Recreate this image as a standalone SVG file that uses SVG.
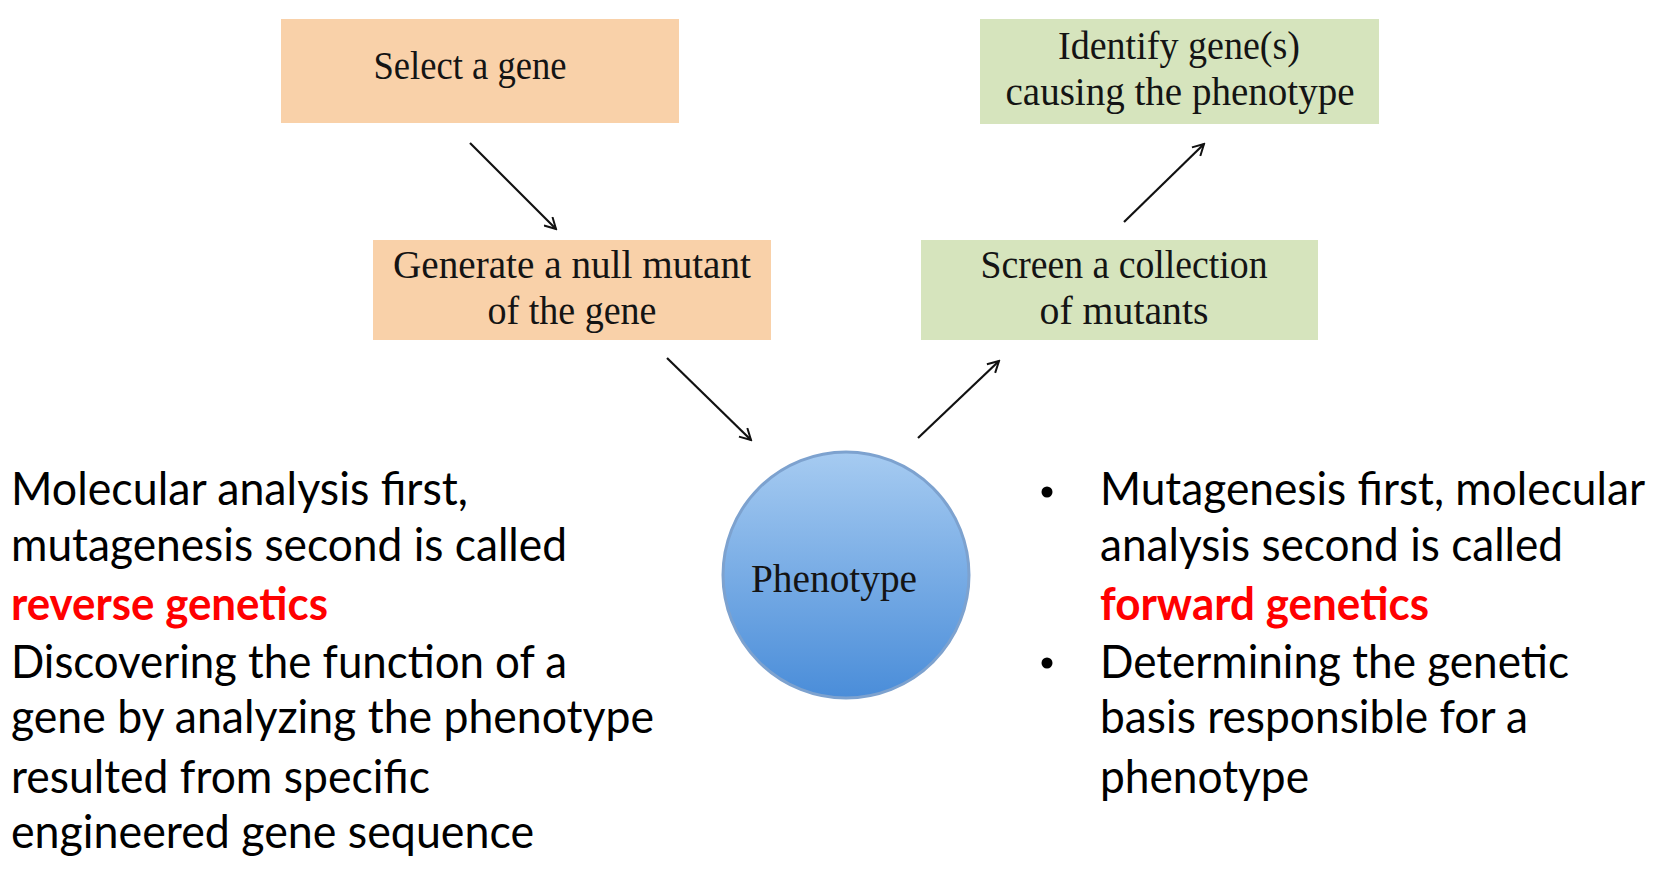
<svg xmlns="http://www.w3.org/2000/svg" width="1663" height="871" viewBox="0 0 1663 871">
<style>
.box-o{fill:#F9D1A9;}
.box-g{fill:#D6E4BD;}
.serif{font-family:"Liberation Serif","DejaVu Serif",serif;font-size:40px;fill:#141414;}
.sans{font-family:Lato,"Open Sans","Liberation Sans",sans-serif;font-size:46px;fill:#000;}
.red{fill:#FF0000;font-weight:bold;}
.conn{stroke:#111;stroke-width:2.2;fill:none;marker-end:url(#arr);}
</style>
<defs>
<marker id="arr" viewBox="0 0 14 14" refX="12" refY="7" markerWidth="14" markerHeight="14" markerUnits="userSpaceOnUse" orient="auto">
<path d="M1,1 L12,7 L1,13" fill="none" stroke="#111" stroke-width="2"/>
</marker>
<linearGradient id="blue" x1="0" y1="0" x2="0" y2="1">
<stop offset="0" stop-color="#A6CBF1"/>
<stop offset="1" stop-color="#4A8DD9"/>
</linearGradient>
</defs>
<rect width="1663" height="871" fill="#fff"/>
<g id="node-select">
<rect class="box-o" x="281" y="19" width="398" height="104"/>
<text class="serif" x="470" y="79" text-anchor="middle" textLength="193" lengthAdjust="spacingAndGlyphs">Select a gene</text>
</g>
<g id="node-generate">
<rect class="box-o" x="373" y="240" width="398" height="100"/>
<text class="serif" x="572" y="278" text-anchor="middle" textLength="358" lengthAdjust="spacingAndGlyphs">Generate a null mutant</text>
<text class="serif" x="572" y="324" text-anchor="middle" textLength="169" lengthAdjust="spacingAndGlyphs">of the gene</text>
</g>
<g id="node-identify">
<rect class="box-g" x="980" y="19" width="399" height="105"/>
<text class="serif" x="1179" y="59" text-anchor="middle" textLength="242" lengthAdjust="spacingAndGlyphs">Identify gene(s)</text>
<text class="serif" x="1180" y="105" text-anchor="middle" textLength="349" lengthAdjust="spacingAndGlyphs">causing the phenotype</text>
</g>
<g id="node-screen">
<rect class="box-g" x="921" y="240" width="397" height="100"/>
<text class="serif" x="1124" y="278" text-anchor="middle" textLength="287" lengthAdjust="spacingAndGlyphs">Screen a collection</text>
<text class="serif" x="1124" y="324" text-anchor="middle" textLength="169" lengthAdjust="spacingAndGlyphs">of mutants</text>
</g>
<g id="node-phenotype">
<circle cx="846" cy="575" r="123" fill="url(#blue)" stroke="#7DA2CF" stroke-width="3"/>
<text class="serif" x="834" y="592" text-anchor="middle" textLength="166" lengthAdjust="spacingAndGlyphs" fill="#0d1a33">Phenotype</text>
</g>
<g id="connectors">
<line class="conn" x1="470" y1="143" x2="556" y2="229"/>
<line class="conn" x1="667" y1="358" x2="751" y2="440"/>
<line class="conn" x1="918" y1="438" x2="999" y2="361"/>
<line class="conn" x1="1124" y1="222" x2="1204" y2="144"/>
</g>
<g id="left-text" class="sans">
<text x="11" y="505" textLength="457" lengthAdjust="spacingAndGlyphs">Molecular analysis first,</text>
<text x="11" y="561" textLength="556" lengthAdjust="spacingAndGlyphs">mutagenesis second is called</text>
<text x="11" y="620" class="red" textLength="317" lengthAdjust="spacingAndGlyphs">reverse genetics</text>
<text x="11" y="678" textLength="556" lengthAdjust="spacingAndGlyphs">Discovering the function of a</text>
<text x="11" y="733" textLength="643" lengthAdjust="spacingAndGlyphs">gene by analyzing the phenotype</text>
<text x="11" y="793" textLength="419" lengthAdjust="spacingAndGlyphs">resulted from specific</text>
<text x="11" y="848" textLength="523" lengthAdjust="spacingAndGlyphs">engineered gene sequence</text>
</g>
<g id="right-text" class="sans">
<circle cx="1047" cy="492" r="5.5" fill="#000"/>
<circle cx="1047" cy="663" r="5.5" fill="#000"/>
<text x="1100" y="505" textLength="545" lengthAdjust="spacingAndGlyphs">Mutagenesis first, molecular</text>
<text x="1100" y="561" textLength="463" lengthAdjust="spacingAndGlyphs">analysis second is called</text>
<text x="1100" y="620" class="red" textLength="329" lengthAdjust="spacingAndGlyphs">forward genetics</text>
<text x="1100" y="678" textLength="469" lengthAdjust="spacingAndGlyphs">Determining the genetic</text>
<text x="1100" y="733" textLength="428" lengthAdjust="spacingAndGlyphs">basis responsible for a</text>
<text x="1100" y="793" textLength="209" lengthAdjust="spacingAndGlyphs">phenotype</text>
</g>
</svg>
